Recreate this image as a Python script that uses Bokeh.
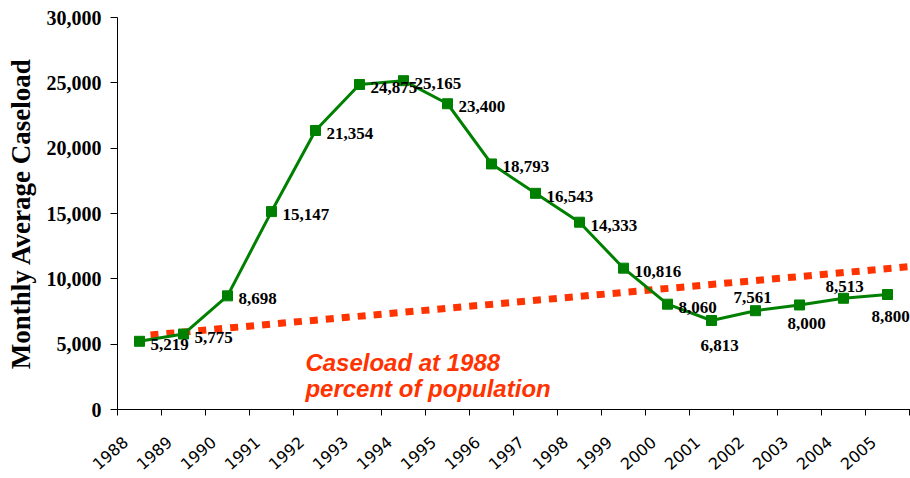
from bokeh.plotting import figure
from bokeh.models import Range1d, FixedTicker, NumeralTickFormatter, ColumnDataSource
from bokeh.core.properties import value
from bokeh.embed import file_html
from bokeh.resources import INLINE

# ---- data ----
years = list(range(1988, 2006))
caseload = [5219, 5775, 8698, 15147, 21354, 24875, 25165, 23400, 18793,
            16543, 14333, 10816, 8060, 6813, 7561, 8000, 8513, 8800]
trend_years = [1988.25, 2005.56]
trend_caseload = [5700, 10950]
y_ticks = [0, 5000, 10000, 15000, 20000, 25000, 30000]
annotation_lines = ["Caseload at 1988", "percent of population"]
y_title = "Monthly Average Caseload"

# ---- label placement (style) ----
lab_dx = [11] * 18
lab_dy = [3] * 18
lab_align = ["left"] * 18
special = {2001: (8, 25), 2002: (-3, -13), 2003: (7, 19), 2004: (1, -12), 2005: (3, 22)}
for yr, (dx, dy) in special.items():
    i = years.index(yr)
    lab_dx[i], lab_dy[i], lab_align[i] = dx, dy, "center"

GREEN = "#008000"
RED = "#FF3300"
LABEL_SHIFT = 0.32  # rotated year labels end slightly left of the category centre

src = ColumnDataSource(dict(
    x=years, y=caseload, lab=[f"{v:,}" for v in caseload],
    dx=lab_dx, dy=lab_dy, al=lab_align))

p = figure(width=910, height=478, output_backend="svg", toolbar_location=None,
           x_range=Range1d(1987.5, 1987.5 + 793 / 44), y_range=Range1d(0, 30000),
           min_border_left=117, min_border_right=0, min_border_top=17, min_border_bottom=69)
p.outline_line_color = None
p.xgrid.visible = False
p.ygrid.visible = False
p.background_fill_color = "white"
p.border_fill_color = "white"

# trend dotted line
p.line(trend_years, trend_caseload, line_color=RED, line_width=7, line_dash="8 8")

# caseload line
p.line("x", "y", source=src, line_color=GREEN, line_width=3)
p.scatter("x", "y", source=src, marker="square", size=10, fill_color=GREEN, line_color=GREEN)

p.text("x", "y", text="lab", source=src, x_offset="dx", y_offset="dy", text_align="al",
       text_baseline="middle", text_font=value("Liberation Serif"), text_font_style="bold",
       text_font_size="17px", text_color="black")

# annotation
ann_x = [1991.77, 1991.77]
ann_y = [3600, 1610]
p.text(ann_x, ann_y, text=annotation_lines, text_font=value("Liberation Sans"),
       text_font_style="bold italic", text_font_size="24px", text_color=RED,
       text_baseline="alphabetic", text_align="left")

# x axis
label_pos = [y - LABEL_SHIFT for y in years]
xa = p.xaxis[0]
xa.ticker = FixedTicker(ticks=label_pos, minor_ticks=[y - 0.5 for y in years] + [2005.5])
xa.major_label_overrides = {pos: str(y) for pos, y in zip(label_pos, years)}
xa.major_tick_out = 0
xa.major_tick_in = 0
xa.minor_tick_out = 6
xa.minor_tick_in = 0
xa.major_label_orientation = 0.72
xa.major_label_standoff = 24
xa.major_label_text_font = "DejaVu Sans"
xa.major_label_text_font_size = "16px"
xa.major_label_text_color = "black"
xa.axis_line_color = "black"

# y axis
ya = p.yaxis[0]
ya.ticker = FixedTicker(ticks=y_ticks)
ya.formatter = NumeralTickFormatter(format="0,0")
ya.major_tick_out = 7
ya.major_tick_in = 0
ya.minor_tick_out = 0
ya.minor_tick_in = 0
ya.major_label_standoff = 9
ya.major_label_text_font = "Liberation Serif"
ya.major_label_text_font_style = "bold"
ya.major_label_text_font_size = "20px"
ya.major_label_text_color = "black"
ya.axis_label = y_title
ya.axis_label_text_font = "Liberation Serif"
ya.axis_label_text_font_style = "bold"
ya.axis_label_text_font_size = "27px"
ya.axis_label_text_color = "black"
ya.axis_label_standoff = 8
ya.axis_line_color = "black"

open("out.html", "w").write(file_html(p, INLINE))
